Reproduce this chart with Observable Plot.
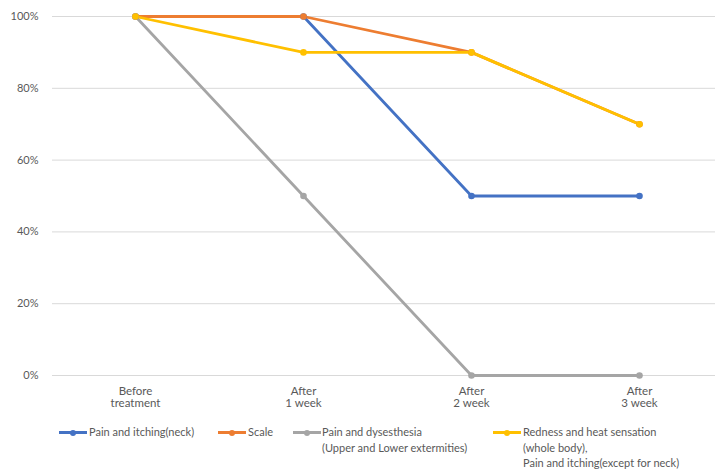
<!DOCTYPE html>
<html><head><meta charset="utf-8">
<script src="https://cdn.jsdelivr.net/npm/d3@7"></script>
<script src="https://cdn.jsdelivr.net/npm/@observablehq/plot@0.6"></script>
<style>
body{margin:0;background:#fff;font-family:Lato,"Liberation Sans",sans-serif;}
#wrap{position:relative;width:717px;height:473px;overflow:hidden;}
#chart{position:absolute;left:0;top:0;}
.leg{position:absolute;font-size:11px;color:#595959;line-height:15.5px;white-space:pre;}
.sw{position:absolute;height:3px;width:28px;}
.dot{position:absolute;width:6px;height:6px;border-radius:50%;}
</style></head><body>
<div id="wrap"><div id="chart"></div></div>
<script>
const categories = ["Before\ntreatment", "After\n1 week", "After\n2 week", "After\n3 week"];
const seriesNames = ["Pain and itching(neck)", "Scale", "Pain and dysesthesia\n(Upper and Lower extermities)", "Redness and heat sensation\n(whole body),\nPain and itching(except for neck)"];
const colors = ["#4472C4", "#ED7D31", "#A5A5A5", "#FFC000"];
const painNeck = [1.0, 1.0, 0.5, 0.5];
const scale = [1.0, 1.0, 0.9, 0.7];
const painDysesthesia = [1.0, 0.5, 0.0, 0.0];
const redness = [1.0, 0.9, 0.9, 0.7];
const yTicks = [0, 0.2, 0.4, 0.6, 0.8, 1.0];

const seriesValues = [painNeck, scale, painDysesthesia, redness];
const data = [];
seriesValues.forEach((vals, s) => vals.forEach((v, i) => data.push({series: seriesNames[s], cat: categories[i], value: v, order: s})));

const chart = Plot.plot({
  width: 717, height: 420,
  marginLeft: 52, marginRight: 2, marginTop: 16, marginBottom: 45,
  style: {fontFamily: "Lato, 'Liberation Sans', sans-serif", fontSize: "11px", color: "#595959", background: "transparent"},
  x: {type: "point", domain: categories, range: [135, 639], padding: 0},
  y: {domain: [0, 1], ticks: yTicks, tickFormat: d3.format(".0%")},
  marks: [
    Plot.ruleY(yTicks, {stroke: "#d9d9d9", strokeWidth: 1}),
    Plot.axisY({ticks: yTicks, tickSize: 0, tickPadding: 14, tickFormat: d3.format(".0%"), label: null, fill: "#595959"}),
    Plot.axisX({tickSize: 0, tickPadding: 11, label: null, fill: "#595959", lineHeight: 1.05, fontSize: 11.5}),
    ...seriesNames.map((name, s) => Plot.line(data.filter(d => d.order === s), {x: "cat", y: "value", stroke: colors[s], strokeWidth: 2.8})),
    ...seriesNames.map((name, s) => Plot.dot(data.filter(d => d.order === s), {x: "cat", y: "value", fill: colors[s], r: 3.3}))
  ]
});
document.getElementById("chart").appendChild(chart);

// legend
const wrap = document.getElementById("wrap");
const legPos = [[59, 89], [218, 248], [293, 322], [493, 523]];
seriesNames.forEach((name, s) => {
  const [sx, tx] = legPos[s];
  const sw = document.createElement("div");
  sw.className = "sw"; sw.style.left = sx + "px"; sw.style.top = "431px"; sw.style.background = colors[s];
  wrap.appendChild(sw);
  const dot = document.createElement("div");
  dot.className = "dot"; dot.style.left = (sx + 11) + "px"; dot.style.top = "429.5px"; dot.style.background = colors[s];
  wrap.appendChild(dot);
  const t = document.createElement("div");
  t.className = "leg"; t.style.left = tx + "px"; t.style.top = "424px";
  t.textContent = name;
  wrap.appendChild(t);
});
</script>
</body></html>
